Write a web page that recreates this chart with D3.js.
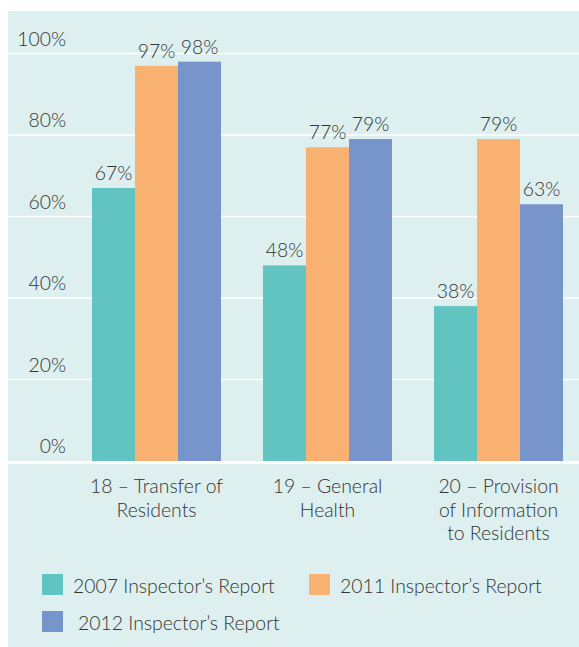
<!DOCTYPE html>
<html>
<head>
<meta charset="utf-8">
<script src="https://cdn.jsdelivr.net/npm/d3@7"></script>
<style>
  html, body { margin: 0; padding: 0; background: #fff; }
  svg text { font-family: "Lato", "Open Sans", sans-serif; font-weight: 300; fill: #333; }
</style>
</head>
<body>
<div id="chart"></div>
<script>
const categories = [
  ["18 – Transfer of", "Residents"],
  ["19 – General", "Health"],
  ["20 – Provision", "of Information", "to Residents"]
];
const seriesNames = ["2007 Inspector’s Report", "2011 Inspector’s Report", "2012 Inspector’s Report"];
const seriesColors = ["#62c4c1", "#f9b172", "#7794cb"];
const values2007 = [67, 48, 38];
const values2011 = [97, 77, 79];
const values2012 = [98, 79, 63];
const yTicks = [0, 20, 40, 60, 80, 100];

const width = 579;
const height = 647;
const fontSize = "19.4px";
const series = [values2007, values2011, values2012];

const svg = d3.select("#chart").append("svg")
  .attr("width", width).attr("height", height);

// panel background
svg.append("rect")
  .attr("x", 8).attr("y", 11)
  .attr("width", width - 8).attr("height", height - 11)
  .attr("fill", "#ddf0ef");

const x = d3.scaleBand()
  .domain(d3.range(categories.length))
  .range([71, 584])
  .paddingInner(0.2456)
  .paddingOuter(0.1228);

const xSub = d3.scaleBand()
  .domain(d3.range(series.length))
  .range([0, x.bandwidth()]);

const y = d3.scaleLinear().domain([0, 100]).range([461, 53.5]);

// gridlines
svg.append("g").selectAll("line")
  .data(yTicks.filter(d => d > 0))
  .join("line")
  .attr("x1", 8).attr("x2", width)
  .attr("y1", d => y(d)).attr("y2", d => y(d))
  .attr("stroke", "#fff").attr("stroke-width", 1.5);

// tick labels
svg.append("g").selectAll("text")
  .data(yTicks)
  .join("text")
  .attr("x", 66)
  .attr("y", d => y(d) - 8)
  .attr("text-anchor", "end")
  .style("font-size", fontSize)
  .text(d => d + "%");

// bars
const groups = svg.append("g").selectAll("g")
  .data(categories.map((c, i) => i))
  .join("g")
  .attr("transform", i => `translate(${x(i)},0)`);

groups.selectAll("rect")
  .data(i => series.map((s, j) => ({ j, v: s[i] })))
  .join("rect")
  .attr("x", d => xSub(d.j))
  .attr("width", xSub.bandwidth())
  .attr("y", d => y(d.v))
  .attr("height", d => y(0) - y(d.v))
  .attr("fill", d => seriesColors[d.j]);

groups.selectAll("text")
  .data(i => series.map((s, j) => ({ j, v: s[i] })))
  .join("text")
  .attr("x", d => xSub(d.j) + xSub.bandwidth() / 2)
  .attr("y", d => y(d.v) - 8)
  .attr("text-anchor", "middle")
  .style("font-size", fontSize)
  .text(d => d.v + "%");

// baseline
svg.append("line")
  .attr("x1", 8).attr("x2", width)
  .attr("y1", y(0) + 1.5).attr("y2", y(0) + 1.5)
  .attr("stroke", "#fff").attr("stroke-width", 3);

// category labels
const catText = svg.append("g").selectAll("text")
  .data(categories)
  .join("text")
  .attr("text-anchor", "middle")
  .style("font-size", fontSize)
  .attr("transform", (d, i) => `translate(${x(i) + x.bandwidth() / 2},493)`);

catText.selectAll("tspan")
  .data(d => d)
  .join("tspan")
  .attr("x", 0)
  .attr("dy", (d, k) => k === 0 ? 0 : 23.5)
  .text(d => d);

// legend
const legendPos = [[42, 574], [309, 574], [42, 611]];
const legend = svg.append("g").selectAll("g")
  .data(seriesNames)
  .join("g")
  .attr("transform", (d, i) => `translate(${legendPos[i][0]},${legendPos[i][1]})`);

legend.append("rect")
  .attr("width", 21).attr("height", 21)
  .attr("fill", (d, i) => seriesColors[i]);

legend.append("text")
  .attr("x", (d, i) => i === 2 ? 36 : 31)
  .attr("y", 19)
  .style("font-size", fontSize)
  .text(d => d);
</script>
</body>
</html>
